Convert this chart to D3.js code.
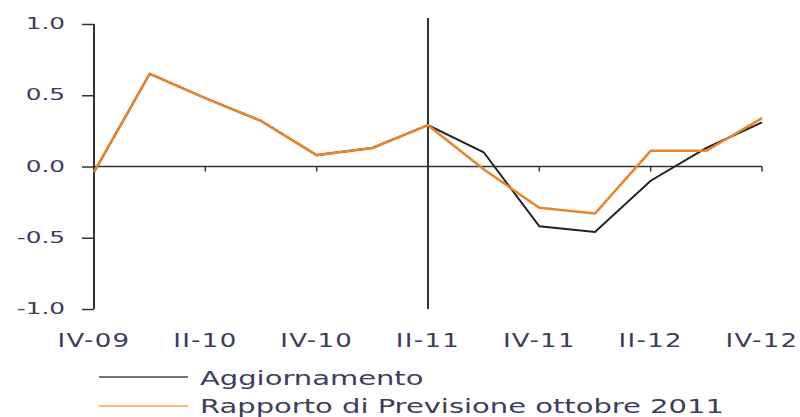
<!DOCTYPE html>
<html>
<head>
<meta charset="utf-8">
<script src="https://cdnjs.cloudflare.com/ajax/libs/d3/7.8.5/d3.min.js"></script>
<style>
  body { margin: 0; background: #fff; }
  text { font-family: "DejaVu Sans", sans-serif; fill: #3d3d5c; }
</style>
</head>
<body>
<div id="chart"></div>
<script>
// quarters from IV-09 to IV-12
var quarters = ["IV-09", "I-10", "II-10", "III-10", "IV-10", "I-11", "II-11",
                "III-11", "IV-11", "I-12", "II-12", "III-12", "IV-12"];
var tickLabels = ["IV-09", "II-10", "IV-10", "II-11", "IV-11", "II-12", "IV-12"];
var yTicks = [1.0, 0.5, 0.0, -0.5, -1.0];

// Aggiornamento (black)
var aggiornamento = [-0.04, 0.65, 0.48, 0.32, 0.08, 0.13, 0.29,
                     0.10, -0.42, -0.46, -0.10, 0.13, 0.31];
// Rapporto di Previsione ottobre 2011 (orange)
var rapporto = [-0.04, 0.65, 0.48, 0.32, 0.08, 0.13, 0.29,
                -0.02, -0.29, -0.33, 0.11, 0.11, 0.34];

var seriesNames = ["Aggiornamento", "Rapporto di Previsione ottobre 2011"];
var colors = ["#222222", "#e8842c"];

var width = 800, height = 417;
var svg = d3.select("#chart").append("svg")
  .attr("width", width).attr("height", height);

var x = d3.scalePoint().domain(quarters).range([94, 762]);
var y = d3.scaleLinear().domain([-1, 1]).range([309, 24]);

// the original type is wide, so stretch the glyphs horizontally
function wideText(sel, sx) {
  sel.attr("transform", function () {
    var t = d3.select(this);
    return "translate(" + t.attr("data-x") + "," + t.attr("data-y") + ") scale(" + sx + ",1)";
  });
}

// y axis
var yAxis = d3.axisLeft(y).tickValues(yTicks).tickFormat("").tickSize(12);
var gy = svg.append("g").attr("transform", "translate(94,0)").call(yAxis);
gy.select(".domain").attr("stroke", "#333").attr("stroke-width", 2).attr("d", "M0," + y(1) + "V" + y(-1));
gy.selectAll(".tick line").attr("stroke", "#333").attr("stroke-width", 1.5);

svg.selectAll(".ylabel").data(yTicks).enter().append("text")
  .attr("class", "ylabel")
  .attr("data-x", 65)
  .attr("data-y", function (d) { return y(d) + 5; })
  .attr("text-anchor", "end")
  .style("font-size", "16.5px")
  .text(function (d) { return d3.format(".1f")(d).replace("−", "-"); })
  .call(wideText, 1.5);

// zero line with ticks
svg.append("line")
  .attr("x1", x("IV-09")).attr("x2", x("IV-12"))
  .attr("y1", y(0)).attr("y2", y(0))
  .attr("stroke", "#333").attr("stroke-width", 1.5);
svg.selectAll(".xtick").data(tickLabels.slice(1)).enter().append("line")
  .attr("x1", function (d) { return x(d); }).attr("x2", function (d) { return x(d); })
  .attr("y1", y(0)).attr("y2", y(0) + 5)
  .attr("stroke", "#333").attr("stroke-width", 1.5);

// x labels
svg.selectAll(".xlabel").data(tickLabels).enter().append("text")
  .attr("class", "xlabel")
  .attr("data-x", function (d) { return x(d); })
  .attr("data-y", 347)
  .attr("text-anchor", "middle")
  .style("font-size", "20px")
  .style("letter-spacing", "1px")
  .text(function (d) { return d; })
  .call(wideText, 1.3);

// vertical divider at II-11
svg.append("line")
  .attr("x1", x("II-11")).attr("x2", x("II-11"))
  .attr("y1", 18).attr("y2", 309)
  .attr("stroke", "#333").attr("stroke-width", 2);

var line = d3.line()
  .x(function (d, i) { return x(quarters[i]); })
  .y(function (d) { return y(d); });

svg.append("path").datum(aggiornamento)
  .attr("d", line).attr("fill", "none")
  .attr("stroke", colors[0]).attr("stroke-width", 2);
svg.append("path").datum(rapporto)
  .attr("d", line).attr("fill", "none")
  .attr("stroke", colors[1]).attr("stroke-width", 2.5);

// legend
var legend = svg.selectAll(".legend").data(seriesNames).enter().append("g")
  .attr("transform", function (d, i) { return "translate(99," + (377 + i * 29) + ")"; });
legend.append("line")
  .attr("x1", 0).attr("x2", 89)
  .attr("stroke", function (d, i) { return i === 0 ? "#444" : "#f4a455"; })
  .attr("stroke-width", 1.5);
legend.append("text")
  .attr("data-x", 101).attr("data-y", function (d, i) { return 8 - i; })
  .style("font-size", "20px")
  .text(function (d) { return d; })
  .call(wideText, 1.45);
</script>
</body>
</html>
